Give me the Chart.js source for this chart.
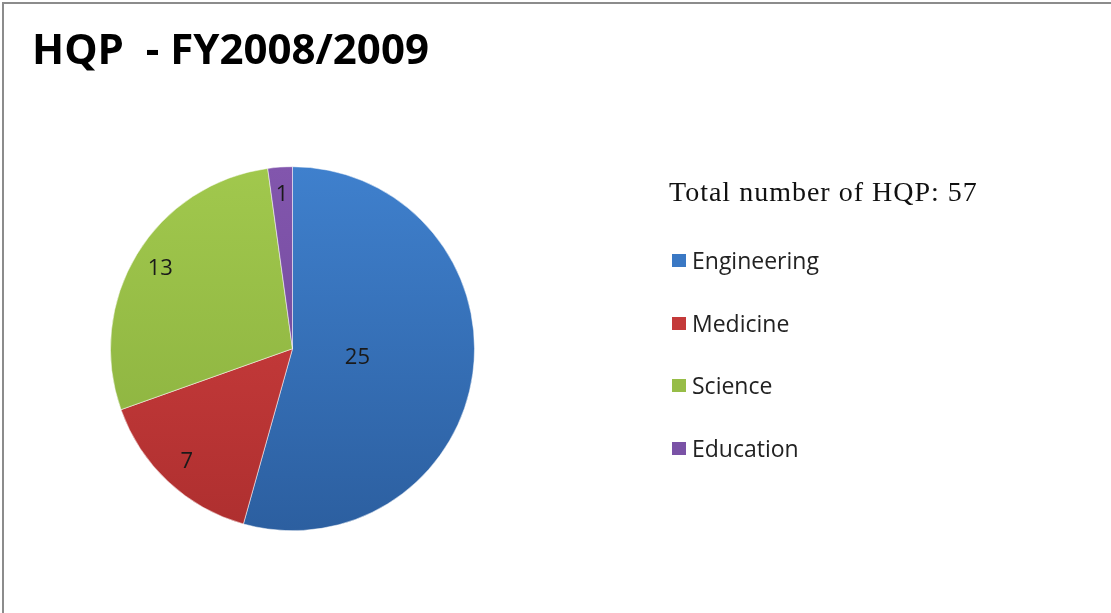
<!DOCTYPE html>
<html>
<head>
<meta charset="utf-8">
<script src="https://cdn.jsdelivr.net/npm/chart.js@4.4.1/dist/chart.umd.min.js"></script>
<style>
  html, body { margin: 0; padding: 0; background: #ffffff; }
  #wrap { position: relative; width: 1111px; height: 613px; overflow: hidden; background: #ffffff; }
  #frame { position: absolute; left: 2px; top: 2px; right: -10px; bottom: -10px;
           border-left: 2px solid #8c8c8c; border-top: 2px solid #8c8c8c; pointer-events: none; }
  canvas { position: absolute; left: 0; top: 0; }
  #legend { position: absolute; left: 669px; top: 172px; }
  #legend .ltitle { font-family: "Liberation Serif", serif; font-size: 28px; letter-spacing: 1px; color: #111; line-height: 40px; margin: 0 0 33px 0; white-space: nowrap; }
  #legend .item { position: relative; height: 62.5px; font-family: "Open Sans", sans-serif; font-size: 23px; color: #222; white-space: nowrap; }
  #legend .box { position: absolute; left: 3px; top: 9px; width: 14px; height: 13px; }
  #legend .txt { position: absolute; left: 23px; top: -2px; line-height: 34px; }
</style>
</head>
<body>
<div id="wrap">
  <canvas id="c" width="1111" height="613"></canvas>
  <div id="legend"></div>
  <div id="frame"></div>
</div>
<script>
const chartTitle = "HQP  - FY2008/2009";
const legendTitle = "Total number of HQP: 57";
const categories = ["Engineering", "Medicine", "Science", "Education"];
const counts = [25, 7, 13, 1];
const colorsTop = ["#3f80cd", "#d44141", "#a1c84d", "#8256ad"];
const colorsBottom = ["#2c5fa0", "#ae2f2f", "#88ae3d", "#6c4596"];
const legendColors = ["#3a78c4", "#c43a3a", "#97bd47", "#7a52a6"];

const PIE_RADIUS = 182;

function sliceFill(ctx) {
  const chart = ctx.chart;
  const area = chart.chartArea;
  const i = ctx.dataIndex;
  if (!area) return colorsTop[i];
  const cy = (area.top + area.bottom) / 2;
  const g = chart.ctx.createLinearGradient(0, cy - PIE_RADIUS, 0, cy + PIE_RADIUS);
  g.addColorStop(0, colorsTop[i]);
  g.addColorStop(1, colorsBottom[i]);
  return g;
}

const sliceLabels = {
  id: 'sliceLabels',
  afterDatasetsDraw(chart) {
    const meta = chart.getDatasetMeta(0);
    const data = chart.data.datasets[0].data;
    const total = data.reduce((a, b) => a + b, 0);
    const c = chart.ctx;
    c.save();
    c.font = '22px "Open Sans", sans-serif';
    c.fillStyle = '#1a1a1a';
    c.textAlign = 'center';
    c.textBaseline = 'middle';
    meta.data.forEach((arc, i) => {
      const p = arc.getProps(['x', 'y', 'startAngle', 'endAngle', 'outerRadius'], true);
      const mid = (p.startAngle + p.endAngle) / 2;
      const frac = data[i] / total > 0.5 ? 0.36 : 0.85;
      const r = p.outerRadius * frac;
      c.fillText(String(data[i]), p.x + Math.cos(mid) * r, p.y + Math.sin(mid) * r);
    });
    c.restore();
  }
};

const chart = new Chart(document.getElementById('c'), {
  type: 'pie',
  data: {
    labels: categories,
    datasets: [{
      data: counts,
      backgroundColor: sliceFill,
      borderColor: 'rgba(255,255,255,0.5)',
      borderWidth: 1
    }]
  },
  options: {
    responsive: false,
    animation: false,
    radius: PIE_RADIUS,
    layout: { padding: { left: 32, right: 558, top: 0, bottom: 53 } },
    plugins: {
      legend: { display: false },
      tooltip: { enabled: false },
      title: {
        display: true,
        text: chartTitle,
        align: 'start',
        color: '#000000',
        font: { family: '"Open Sans", sans-serif', size: 42, weight: 'bold', lineHeight: 1.2 },
        padding: { top: 27, bottom: 60 }
      }
    }
  },
  plugins: [sliceLabels]
});

// HTML legend built from the chart's own legend items
const legendEl = document.getElementById('legend');
const t = document.createElement('div');
t.className = 'ltitle';
t.textContent = legendTitle;
legendEl.appendChild(t);
chart.options.plugins.legend.labels.generateLabels(chart).forEach((item) => {
  const row = document.createElement('div');
  row.className = 'item';
  const box = document.createElement('span');
  box.className = 'box';
  box.style.background = legendColors[item.index];
  const txt = document.createElement('span');
  txt.className = 'txt';
  txt.textContent = item.text;
  row.appendChild(box);
  row.appendChild(txt);
  legendEl.appendChild(row);
});
</script>
</body>
</html>
